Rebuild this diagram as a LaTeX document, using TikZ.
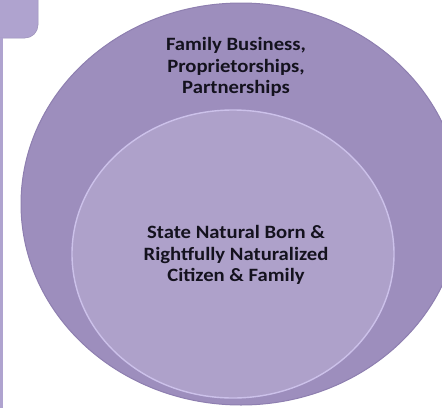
\documentclass[tikz,border=0pt]{standalone}
\usepackage{fontspec}
\setmainfont{Carlito}
\newfontfamily\labelfont[FakeStretch=1.1]{Carlito}
\usepackage{xcolor}
\usepackage{tikz}
\usetikzlibrary{positioning}
\definecolor{outerfill}{HTML}{9D8EBD}
\definecolor{outerrim}{HTML}{8E7FB0}
\definecolor{innerfill}{HTML}{AEA1CA}
\definecolor{innerrim}{HTML}{CCC1EA}
\definecolor{tabfill}{HTML}{AFA3CF}
\definecolor{tabrim}{HTML}{9A8FB8}
\definecolor{ink}{HTML}{14121E}

\begin{document}
\begin{tikzpicture}[x=1pt,y=-1pt,
    label/.style={align=center, text=ink, inner sep=0pt,
                  font=\labelfont\fontsize{18.8}{21.5}\selectfont\bfseries},
    ring/.style={line width=1pt},
]
\useasboundingbox (0,0) rectangle (442,408);
\clip (0,0) rectangle (442,408);

% side tab
\fill[tabfill, draw=tabrim, line width=0.5pt, rounded corners=13pt]
    (-30,-20) rectangle (38,38);
\fill[tabfill] (0,38) rectangle (3,408);

% outer ring
\coordinate (outer) at (241,204);
\filldraw[ring, fill=outerfill, draw=outerrim]
    (outer) ellipse [x radius=220pt, y radius=201pt];

% inner ring
\coordinate (inner) at (233,254);
\filldraw[fill=innerfill, draw=innerrim, line width=1.4pt]
    (inner) ellipse [x radius=161pt, y radius=144pt];

\node[label] (business) at (236,67)
    {Family Business,\\Proprietorships,\\Partnerships};
\node[label] (citizen) at (236,255)
    {State Natural Born \&\\Rightfully Naturalized\\Citizen \& Family};
\end{tikzpicture}
\end{document}
